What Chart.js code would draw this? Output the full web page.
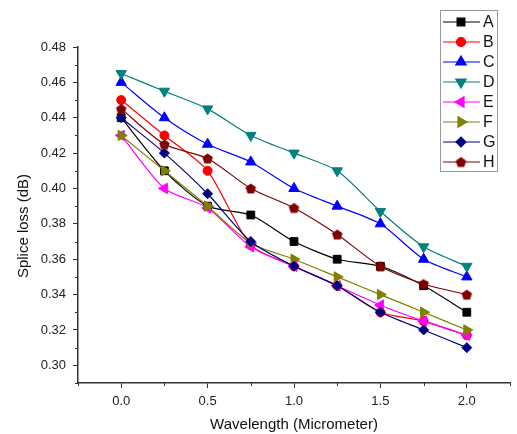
<!DOCTYPE html>
<html>
<head>
<meta charset="utf-8">
<script src="https://cdn.jsdelivr.net/npm/chart.js@4.4.1/dist/chart.umd.min.js"></script>
<style>
  html, body { margin: 0; padding: 0; background: #fff; }
  #wrap { position: relative; width: 517px; height: 434px; }
</style>
</head>
<body>
<div id="wrap"><canvas id="c"></canvas></div>
<script>
// ===== DATA =====
const wavelength = [0, 0.25, 0.5, 0.75, 1.0, 1.25, 1.5, 1.75, 2.0];
const seriesNames = ['A', 'B', 'C', 'D', 'E', 'F', 'G', 'H'];
const lossA = [0.440, 0.410, 0.390, 0.385, 0.370, 0.360, 0.356, 0.345, 0.330];
const lossB = [0.450, 0.430, 0.410, 0.368, 0.356, 0.345, 0.330, 0.325, 0.317];
const lossC = [0.460, 0.440, 0.425, 0.415, 0.400, 0.390, 0.380, 0.360, 0.350];
const lossD = [0.465, 0.455, 0.445, 0.430, 0.420, 0.410, 0.387, 0.367, 0.356];
const lossE = [0.430, 0.400, 0.389, 0.367, 0.356, 0.345, 0.334, 0.325, 0.317];
const lossF = [0.430, 0.410, 0.390, 0.369, 0.360, 0.350, 0.340, 0.330, 0.320];
const lossG = [0.440, 0.420, 0.397, 0.370, 0.356, 0.345, 0.330, 0.320, 0.310];
const lossH = [0.445, 0.425, 0.417, 0.400, 0.389, 0.374, 0.356, 0.346, 0.340];
const xTicks = [0, 0.5, 1.0, 1.5, 2.0];
const xMinorTicks = [-0.25, 0.25, 0.75, 1.25, 1.75, 2.25];
const yTicks = [0.30, 0.32, 0.34, 0.36, 0.38, 0.40, 0.42, 0.44, 0.46, 0.48];
const yMinorTicks = [0.29, 0.31, 0.33, 0.35, 0.37, 0.39, 0.41, 0.43, 0.45, 0.47];

const FONT = '"Liberation Sans", Arial, sans-serif';
const AXIS = '#333';

// ===== STYLE PER SERIES =====
function pentagon(color, r) {
    const cv = document.createElement('canvas');
    const s = Math.ceil(r * 2) + 2;
    cv.width = s; cv.height = s;
    const ctx = cv.getContext('2d');
    ctx.beginPath();
    for (let i = 0; i < 5; i++) {
        const a = -Math.PI / 2 + i * 2 * Math.PI / 5;
        const px = s / 2 + r * Math.cos(a), py = s / 2 + r * Math.sin(a) + 0.5;
        i ? ctx.lineTo(px, py) : ctx.moveTo(px, py);
    }
    ctx.closePath();
    ctx.fillStyle = color;
    ctx.fill();
    return cv;
}

const styles = [
    { color: '#000000', style: 'rect',     rot: 0,   r: 5.5 },
    { color: '#ff0000', style: 'circle',   rot: 0,   r: 4.5 },
    { color: '#0000ff', style: 'triangle', rot: 0,   r: 6 },
    { color: '#008080', style: 'triangle', rot: 180, r: 6 },
    { color: '#ff00ff', style: 'triangle', rot: 270, r: 6 },
    { color: '#808000', style: 'triangle', rot: 90,  r: 6 },
    { color: '#000080', style: 'rectRot',  rot: 0,   r: 5 },
    { color: '#800000', style: pentagon('#800000', 5.5), rot: 0, r: 5.5 }
];

const allLoss = [lossA, lossB, lossC, lossD, lossE, lossF, lossG, lossH];

const datasets = allLoss.map((arr, i) => ({
    label: seriesNames[i],
    data: arr.map((v, k) => ({ x: wavelength[k], y: v })),
    borderColor: styles[i].color,
    backgroundColor: styles[i].color,
    borderWidth: 1.2,
    pointStyle: styles[i].style,
    pointRotation: styles[i].rot,
    pointRadius: styles[i].r,
    pointBackgroundColor: styles[i].color,
    pointBorderColor: styles[i].color,
    pointBorderWidth: 1,
    tension: 0.25,
    order: allLoss.length - i
}));

// ===== PLUGIN: minor ticks, y title, legend =====
const extras = {
    id: 'extras',
    afterDraw(chart) {
        const ctx = chart.ctx;
        const xs = chart.scales.x, ys = chart.scales.y;
        const area = chart.chartArea;
        ctx.save();
        ctx.strokeStyle = AXIS;
        ctx.lineWidth = 1;
        ctx.beginPath();
        yMinorTicks.forEach(v => {
            const py = Math.round(ys.getPixelForValue(v)) + 0.5;
            ctx.moveTo(area.left - 3, py);
            ctx.lineTo(area.left, py);
        });
        xMinorTicks.forEach(v => {
            const px = Math.round(xs.getPixelForValue(v)) + 0.5;
            ctx.moveTo(px, area.bottom);
            ctx.lineTo(px, area.bottom + 3);
        });
        ctx.stroke();

        // y title
        ctx.fillStyle = '#111';
        ctx.font = '15px ' + FONT;
        ctx.textAlign = 'center';
        ctx.textBaseline = 'middle';
        ctx.translate(24, 226);
        ctx.rotate(-Math.PI / 2);
        ctx.fillText('Splice loss (dB)', 0, 0);
        ctx.restore();

        // legend
        ctx.save();
        ctx.fillStyle = '#fff';
        ctx.fillRect(440.5, 10.5, 57, 161);
        ctx.strokeStyle = '#999';
        ctx.lineWidth = 1;
        ctx.strokeRect(440.5, 10.5, 57, 161);
        chart.data.datasets.forEach((ds, i) => {
            const y = 22 + i * 20;
            ctx.strokeStyle = ds.borderColor;
            ctx.lineWidth = 1.2;
            ctx.beginPath();
            ctx.moveTo(443, y);
            ctx.lineTo(480, y);
            ctx.stroke();
            ctx.fillStyle = ds.borderColor;
            Chart.helpers.drawPoint(ctx, {
                pointStyle: ds.pointStyle,
                rotation: ds.pointRotation,
                radius: ds.pointRadius,
                borderWidth: 1
            }, 461, y);
            ctx.fillStyle = '#111';
            ctx.font = '16px ' + FONT;
            ctx.textAlign = 'left';
            ctx.textBaseline = 'middle';
            ctx.fillText(ds.label, 483, y + 1);
        });
        ctx.restore();
    }
};

// ===== CHART =====
new Chart(document.getElementById('c'), {
    type: 'line',
    data: { datasets },
    options: {
        responsive: true,
        maintainAspectRatio: false,
        animation: false,
        layout: { padding: { top: 47, right: 0, left: 0, bottom: 0 } },
        plugins: { legend: { display: false }, tooltip: { enabled: false } },
        scales: {
            x: {
                type: 'linear',
                min: -0.25,
                max: 2.25,
                afterBuildTicks: s => { s.ticks = xTicks.map(v => ({ value: v })); },
                afterFit: s => { s.height = 51; },
                grid: { drawOnChartArea: false, drawTicks: true, tickLength: 5, color: AXIS, lineWidth: 1 },
                border: { display: true, color: AXIS, width: 1.5 },
                ticks: {
                    color: '#222',
                    font: { family: FONT, size: 13 },
                    padding: 6,
                    maxRotation: 0,
                    callback: v => v.toFixed(1)
                },
                title: {
                    display: true,
                    text: 'Wavelength (Micrometer)',
                    color: '#111',
                    font: { family: FONT, size: 15 },
                    padding: { top: -3, bottom: 0 }
                }
            },
            y: {
                min: 0.29,
                max: 0.48,
                afterBuildTicks: s => { s.ticks = yTicks.map(v => ({ value: v })); },
                afterFit: s => { s.width = 78; },
                grid: { drawOnChartArea: false, drawTicks: true, tickLength: 5, color: AXIS, lineWidth: 1 },
                border: { display: true, color: AXIS, width: 1.5 },
                ticks: {
                    color: '#222',
                    font: { family: FONT, size: 13 },
                    padding: 7,
                    callback: v => v.toFixed(2)
                }
            }
        }
    },
    plugins: [extras]
});
</script>
</body>
</html>
